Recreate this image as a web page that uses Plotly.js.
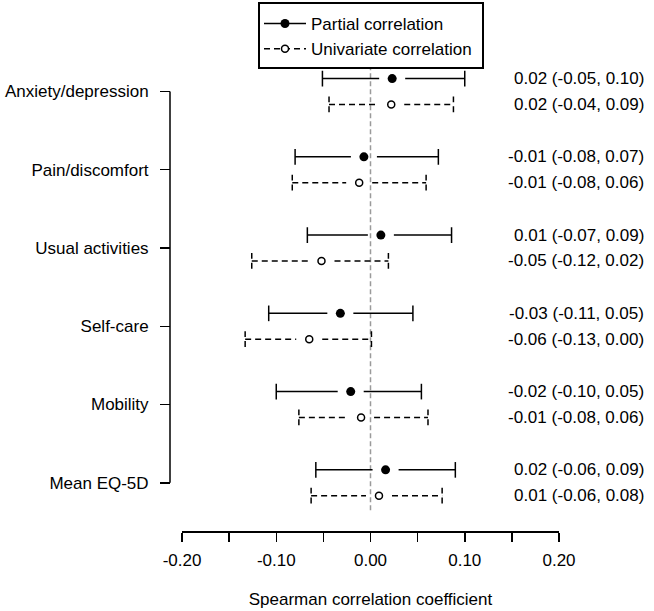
<!DOCTYPE html>
<html>
<head>
<meta charset="utf-8">
<script src="https://cdn.plot.ly/plotly-3.0.1.min.js"></script>
<style>html,body{margin:0;padding:0;background:#fff;}#chart{width:654px;height:611px;}</style>
</head>
<body>
<div id="chart"></div>
<script>
// Data (top to bottom)
const categories = ["Anxiety/depression", "Pain/discomfort", "Usual activities", "Self-care", "Mobility", "Mean EQ-5D"];
const partialEst = [0.023, -0.007, 0.011, -0.032, -0.021, 0.016];
const partialLo  = [-0.051, -0.080, -0.067, -0.108, -0.100, -0.058];
const partialHi  = [0.100, 0.072, 0.086, 0.045, 0.054, 0.090];
const univEst = [0.022, -0.012, -0.052, -0.065, -0.010, 0.009];
const univLo  = [-0.044, -0.083, -0.126, -0.133, -0.076, -0.063];
const univHi  = [0.088, 0.059, 0.019, 0.001, 0.061, 0.076];
const partialLabels = ["0.02 (-0.05, 0.10)", "-0.01 (-0.08, 0.07)", "0.01 (-0.07, 0.09)", "-0.03 (-0.11, 0.05)", "-0.02 (-0.10, 0.05)", "0.02 (-0.06, 0.09)"];
const univLabels = ["0.02 (-0.04, 0.09)", "-0.01 (-0.08, 0.06)", "-0.05 (-0.12, 0.02)", "-0.06 (-0.13, 0.00)", "-0.01 (-0.08, 0.06)", "0.01 (-0.06, 0.08)"];
const xTickVals = [-0.20, -0.15, -0.10, -0.05, 0.00, 0.05, 0.10, 0.15, 0.20];
const xTickText = ["-0.20", "", "-0.10", "", "0.00", "", "0.10", "", "0.20"];

const FONT = "Liberation Sans, Arial, sans-serif";
const n = categories.length;
const pos = categories.map((c, i) => n - 1 - i);
const OFF = 0.165;    // vertical offset of each series from category tick
const GAP = 0.0138;   // gap between CI line and point (x units)
const CAP = 0.10;     // half-height of end caps (y units)

function segs(est, lo, hi, yoff) {
  const x = [], y = [];
  est.forEach((e, i) => {
    const p = pos[i] + yoff;
    x.push(lo[i], e - GAP, null, e + GAP, hi[i], null);
    y.push(p, p, null, p, p, null);
  });
  return {x, y};
}
function caps(lo, hi, yoff) {
  const x = [], y = [];
  lo.forEach((l, i) => {
    const p = pos[i] + yoff;
    x.push(l, l, null, hi[i], hi[i], null);
    y.push(p - CAP, p + CAP, null, p - CAP, p + CAP, null);
  });
  return {x, y};
}
function pts(est, yoff) {
  const x = [], y = [];
  est.forEach((e, i) => { x.push(e, null); y.push(pos[i] + yoff, null); });
  return {x, y};
}

const solid = {color: "black", width: 1.5};
const dashed = {color: "black", width: 1.5, dash: "6px,4px"};

const pS = segs(partialEst, partialLo, partialHi, OFF);
const pC = caps(partialLo, partialHi, OFF);
const pP = pts(partialEst, OFF);
const uS = segs(univEst, univLo, univHi, -OFF);
const uC = caps(univLo, univHi, -OFF);
const uP = pts(univEst, -OFF);

const traces = [
  {x: pS.x, y: pS.y, mode: "lines", line: solid, showlegend: false, hoverinfo: "skip"},
  {x: pC.x, y: pC.y, mode: "lines", line: solid, showlegend: false, hoverinfo: "skip"},
  {x: uS.x, y: uS.y, mode: "lines", line: dashed, showlegend: false, hoverinfo: "skip"},
  {x: uC.x, y: uC.y, mode: "lines", line: dashed, showlegend: false, hoverinfo: "skip"},
  {x: pP.x, y: pP.y, mode: "lines+markers", name: "Partial correlation", line: solid,
   marker: {symbol: "circle", size: 9, color: "black"}, connectgaps: false, cliponaxis: false},
  {x: uP.x, y: uP.y, mode: "lines+markers", name: "Univariate correlation", line: dashed,
   marker: {symbol: "circle", size: 7, color: "white", line: {color: "black", width: 1.5}}, connectgaps: false, cliponaxis: false}
];

const annotations = [];
categories.forEach((c, i) => {
  annotations.push({xref: "paper", yref: "y", x: 1.2237, y: pos[i] + OFF, text: partialLabels[i],
    showarrow: false, xanchor: "right", yanchor: "middle", font: {family: FONT, size: 17, color: "black"}});
  annotations.push({xref: "paper", yref: "y", x: 1.2237, y: pos[i] - OFF, text: univLabels[i],
    showarrow: false, xanchor: "right", yanchor: "middle", font: {family: FONT, size: 17, color: "black"}});
});

// paper: left 170, right 559, top 68, bottom 531
const PW = 389, PH = 463;
const layout = {
  width: 654, height: 611,
  margin: {l: 170, r: 95, t: 68, b: 80, autoexpand: false},
  paper_bgcolor: "white", plot_bgcolor: "white",
  font: {family: FONT, size: 17, color: "black"},
  showlegend: true,
  legend: {x: (259 - 170) / PW, y: 1 + (68 - 6) / PH, xanchor: "left", yanchor: "top",
    borderwidth: 0, bgcolor: "rgba(0,0,0,0)", itemwidth: 42,
    font: {family: FONT, size: 17, color: "black"}, tracegroupgap: 0},
  xaxis: {
    domain: [12 / PW, 1], range: [-0.2, 0.2], anchor: "free", position: 0,
    showgrid: false, zeroline: false, showline: true, linecolor: "black", linewidth: 1.5,
    ticks: "outside", ticklen: 9, tickwidth: 1.5, tickcolor: "black",
    tickmode: "array", tickvals: xTickVals, ticktext: xTickText,
    tickfont: {family: FONT, size: 17, color: "black"}, ticklabelstandoff: 4,
    title: {text: "Spearman correlation coefficient", font: {family: FONT, size: 17, color: "black"}, standoff: 24},
    fixedrange: true
  },
  yaxis: {
    domain: [0.045, 1], range: [-0.35, 5.3], anchor: "free", position: 0,
    showgrid: false, zeroline: false, showline: false,
    ticks: "outside", ticklen: 10, tickwidth: 1.5, tickcolor: "black",
    tickmode: "array", tickvals: pos, ticktext: categories,
    tickfont: {family: FONT, size: 17, color: "black"}, ticklabelstandoff: 8,
    fixedrange: true
  },
  shapes: [
    {type: "line", xref: "x", yref: "paper", x0: 0, x1: 0, y0: 0.045, y1: 1,
     line: {color: "#9a9a9a", width: 1.5, dash: "5px,3px"}, layer: "below"},
    {type: "line", xref: "paper", yref: "y", x0: 0, x1: 0, y0: 0, y1: n - 1,
     line: {color: "black", width: 1.5}},
    {type: "rect", xref: "paper", yref: "paper",
     x0: (259 - 170) / PW, x1: (483 - 170) / PW, y0: 1 + (68 - 68) / PH, y1: 1 + (68 - 3) / PH,
     line: {color: "black", width: 2}, fillcolor: "rgba(0,0,0,0)"}
  ],
  annotations: annotations
};

Plotly.newPlot("chart", traces, layout, {staticPlot: true, displayModeBar: false});
</script>
</body>
</html>
